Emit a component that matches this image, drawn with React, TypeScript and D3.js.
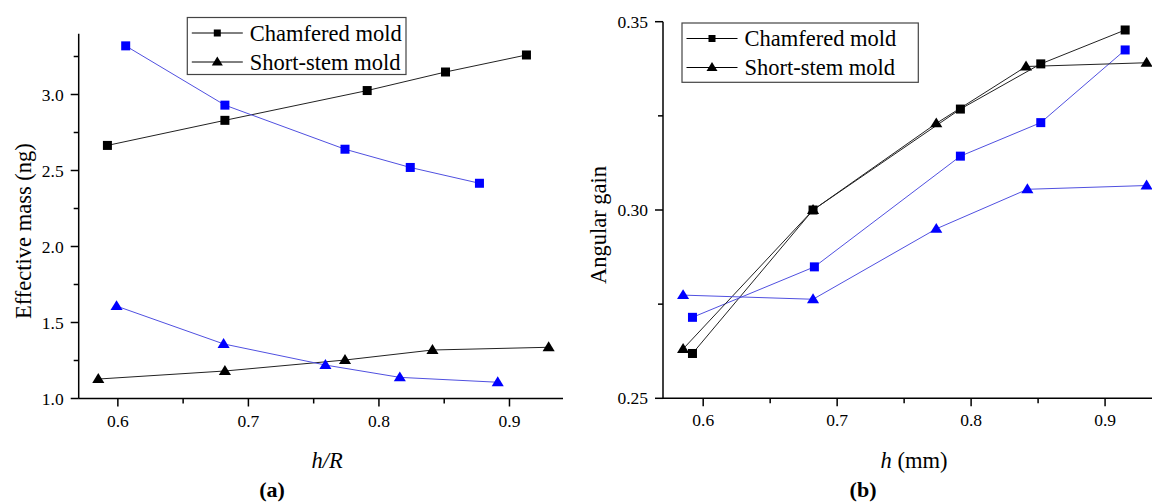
import * as d3 from 'd3'

// panel (a): effective mass vs h/R
const aChamferBlackX = [0.592, 0.682, 0.791, 0.851, 0.913]
const aChamferBlackY = [2.665, 2.83, 3.026, 3.148, 3.26]
const aChamferBlueX = [0.606, 0.682, 0.774, 0.824, 0.877]
const aChamferBlueY = [3.32, 2.93, 2.64, 2.52, 2.416]
const aShortBlackX = [0.585, 0.682, 0.774, 0.841, 0.93]
const aShortBlackY = [1.128, 1.181, 1.253, 1.319, 1.337]
const aShortBlueX = [0.599, 0.681, 0.759, 0.816, 0.891]
const aShortBlueY = [1.608, 1.359, 1.22, 1.139, 1.107]

// panel (b): angular gain vs h
const bChamferBlackX = [0.592, 0.682, 0.792, 0.852, 0.915]
const bChamferBlackY = [0.2619, 0.3, 0.3268, 0.3388, 0.3478]
const bChamferBlueX = [0.592, 0.683, 0.792, 0.852, 0.915]
const bChamferBlueY = [0.2715, 0.2849, 0.3143, 0.3232, 0.3425]
const bShortBlackX = [0.585, 0.682, 0.774, 0.841, 0.931]
const bShortBlackY = [0.2631, 0.3, 0.323, 0.3381, 0.3391]
const bShortBlueX = [0.585, 0.682, 0.774, 0.842, 0.931]
const bShortBlueY = [0.2774, 0.2763, 0.295, 0.3055, 0.3065]

const xTicks = [0.6, 0.7, 0.8, 0.9]
const xMinor = [0.65, 0.75, 0.85]
const aYTicks = [1.0, 1.5, 2.0, 2.5, 3.0]
const aYMinor = [1.25, 1.75, 2.25, 2.75, 3.25]
const bYTicks = [0.25, 0.3, 0.35]
const bYMinor = [0.275, 0.325]

const legendLabels = ['Chamfered mold', 'Short-stem mold']

const W = 1152
const H = 504
const FONT = 'Liberation Serif'
const BLACK_LINE = '#222'
const BLUE_LINE = '#5050e0'
const BLUE_MARK = '#0000ff'

type Series = { xs: number[]; ys: number[]; shape: 'square' | 'triangle'; blue: boolean }

function Marker({ x, y, shape, fill, size }: { x: number; y: number; shape: string; fill: string; size: number }) {
  if (shape === 'square') {
    return <rect x={x - size / 2} y={y - size / 2} width={size} height={size} fill={fill} />
  }
  const h = size * 0.9
  const w = size * 1.1
  return <path d={`M${x},${y - h * 0.6} L${x + w / 2},${y + h * 0.4} L${x - w / 2},${y + h * 0.4} Z`} fill={fill} />
}

function Panel({
  x0, x1, y0, y1, yDomain, yTicks, yMinor, yFmt, series, yTitle, yTitleX, legend, xTitle, xTitleX, tag, tagX,
}: any) {
  const x = d3.scaleLinear().domain([0.57, 0.941]).range([x0, x1])
  const y = d3.scaleLinear().domain(yDomain).range([y0, y1])
  const line = d3.line<[number, number]>().x((d) => x(d[0])).y((d) => y(d[1]))

  return (
    <g style={{ fontFamily: FONT }}>
      {/* series lines, then markers */}
      {series.map((s: Series, i: number) => (
        <path
          key={'l' + i}
          d={line(s.xs.map((v, j) => [v, s.ys[j]]) as [number, number][]) || ''}
          fill="none"
          stroke={s.blue ? BLUE_LINE : BLACK_LINE}
          strokeWidth={1}
        />
      ))}
      {series.map((s: Series, i: number) =>
        s.xs.map((v, j) => (
          <Marker
            key={'m' + i + '-' + j}
            x={x(v)}
            y={y(s.ys[j])}
            shape={s.shape}
            fill={s.blue ? BLUE_MARK : '#000'}
            size={s.shape === 'square' ? 9 : 11}
          />
        )),
      )}

      {/* axes */}
      <line x1={x0} x2={x0} y1={y0} y2={y1} stroke="#000" strokeWidth={1.5} />
      <line x1={x0} x2={x1} y1={y0} y2={y0} stroke="#000" strokeWidth={1.5} />
      {yTicks.map((t: number) => (
        <g key={'yt' + t}>
          <line x1={x0 - 8} x2={x0} y1={y(t)} y2={y(t)} stroke="#000" strokeWidth={1.5} />
          <text x={x0 - 15} y={y(t)} dy="0.35em" textAnchor="end" fontSize={17.5}>
            {yFmt(t)}
          </text>
        </g>
      ))}
      {yMinor.map((t: number) => (
        <line key={'ym' + t} x1={x0 - 5} x2={x0} y1={y(t)} y2={y(t)} stroke="#000" strokeWidth={1.5} />
      ))}
      {xTicks.map((t) => (
        <g key={'xt' + t}>
          <line x1={x(t)} x2={x(t)} y1={y0} y2={y0 + 8} stroke="#000" strokeWidth={1.5} />
          <text x={x(t)} y={y0 + 22} dy="0.35em" textAnchor="middle" fontSize={17.5}>
            {d3.format('.1f')(t)}
          </text>
        </g>
      ))}
      {xMinor.map((t) => (
        <line key={'xm' + t} x1={x(t)} x2={x(t)} y1={y0} y2={y0 + 5} stroke="#000" strokeWidth={1.5} />
      ))}

      {/* titles */}
      <text
        transform={`translate(${yTitleX},${(y0 + y1) / 2 + 15}) rotate(-90)`}
        textAnchor="middle"
        dy="0.35em"
        fontSize={22.5}
      >
        {yTitle}
      </text>
      <text x={xTitleX} y={460} dy="0.35em" textAnchor="middle" fontSize={22.5}>
        {xTitle}
      </text>
      <text x={tagX} y={489} dy="0.35em" textAnchor="middle" fontSize={22} fontWeight="bold">
        ({tag})
      </text>

      {/* legend */}
      <rect x={legend.x} y={legend.y} width={legend.w} height={legend.h} fill="#fff" stroke="#444" strokeWidth={1.2} />
      {legendLabels.map((lab, i) => {
        const ly = legend.y + 15.5 + i * 29
        const lx = legend.x + 4.5
        return (
          <g key={lab}>
            <line x1={lx} x2={lx + 51} y1={ly} y2={ly} stroke="#000" strokeWidth={1} />
            <Marker x={lx + 25.5} y={ly} shape={i === 0 ? 'square' : 'triangle'} fill="#000" size={i === 0 ? 7 : 10} />
            <text x={lx + 58} y={ly} dy="0.35em" fontSize={22.5}>
              {lab}
            </text>
          </g>
        )
      })}
    </g>
  )
}

export default function App() {
  const seriesA: Series[] = [
    { xs: aChamferBlackX, ys: aChamferBlackY, shape: 'square', blue: false },
    { xs: aChamferBlueX, ys: aChamferBlueY, shape: 'square', blue: true },
    { xs: aShortBlackX, ys: aShortBlackY, shape: 'triangle', blue: false },
    { xs: aShortBlueX, ys: aShortBlueY, shape: 'triangle', blue: true },
  ]
  const seriesB: Series[] = [
    { xs: bChamferBlackX, ys: bChamferBlackY, shape: 'square', blue: false },
    { xs: bChamferBlueX, ys: bChamferBlueY, shape: 'square', blue: true },
    { xs: bShortBlackX, ys: bShortBlackY, shape: 'triangle', blue: false },
    { xs: bShortBlueX, ys: bShortBlueY, shape: 'triangle', blue: true },
  ]

  return (
    <svg
      width={W}
      height={H}
      viewBox={`0 0 ${W} ${H}`}
      style={{ position: 'absolute', left: 0, top: 0, background: '#fff', display: 'block' }}
    >
      <rect width={W} height={H} fill="#fff" />
      <Panel
        x0={78.7}
        x1={563}
        y0={398.5}
        y1={33.7}
        yDomain={[1.0, 3.4]}
        yTicks={aYTicks}
        yMinor={aYMinor}
        yFmt={d3.format('.1f')}
        series={seriesA}
        yTitle="Effective mass (ng)"
        yTitleX={23}
        legend={{ x: 187.3, y: 17.5, w: 218.7, h: 57 }}
        xTitle={<tspan fontStyle="italic">h/R</tspan>}
        xTitleX={327}
        tag="a"
        tagX={272}
      />
      <Panel
        x0={663}
        x1={1160}
        y0={398.3}
        y1={21.7}
        yDomain={[0.25, 0.35]}
        yTicks={bYTicks}
        yMinor={bYMinor}
        yFmt={d3.format('.2f')}
        series={seriesB}
        yTitle="Angular gain"
        yTitleX={598}
        legend={{ x: 682, y: 23, w: 236.3, h: 59.3 }}
        xTitle={
          <>
            <tspan fontStyle="italic">h</tspan> (mm)
          </>
        }
        xTitleX={914}
        tag="b"
        tagX={863}
      />
    </svg>
  )
}
